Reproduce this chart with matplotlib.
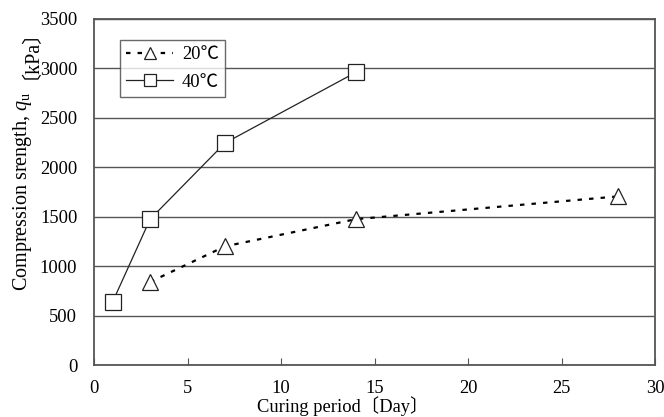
"""
Compression strength vs curing period, 20C and 40C
"""

import matplotlib
matplotlib.use("Agg")
import matplotlib.pyplot as plt

# data
days_20 = [3, 7, 14, 28]
qu_20 = [840, 1200, 1475, 1705]
days_40 = [1, 3, 7, 14]
qu_40 = [640, 1475, 2245, 2960]

x_ticks = [0, 5, 10, 15, 20, 25, 30]
y_ticks = [0, 500, 1000, 1500, 2000, 2500, 3000, 3500]

SERIF = ['Liberation Serif', 'Noto Sans CJK JP', 'DejaVu Serif']
plt.rcParams['font.family'] = SERIF
plt.rcParams['mathtext.fontset'] = 'custom'
plt.rcParams['mathtext.rm'] = 'Liberation Serif'
plt.rcParams['mathtext.it'] = 'Liberation Serif:italic'
plt.rcParams['font.size'] = 13.3

W, H = 664, 417
fig = plt.figure(figsize=(W / 100, H / 100), dpi=100)
ax = fig.add_axes([94 / W, 1 - 365 / H, (655 - 94) / W, (365 - 19) / H])

ax.plot(days_20, qu_20, linestyle=(0, (2, 3.2)), linewidth=1.6, color='#000000',
        marker='^', markersize=12, markerfacecolor='white', markeredgecolor='#222222',
        markeredgewidth=0.9, label='20℃')
ax.plot(days_40, qu_40, linestyle='-', linewidth=0.9, color='#222222',
        marker='s', markersize=11.5, markerfacecolor='white', markeredgecolor='#222222',
        markeredgewidth=0.9, label='40℃')

ax.set_xlim(0, 30)
ax.set_ylim(0, 3500)
ax.set_xticks(x_ticks)
ax.set_yticks(y_ticks)
ax.yaxis.grid(True, color='#555555', linewidth=1.0)
ax.set_axisbelow(True)
for s in ax.spines.values():
    s.set_color('#555555')
    s.set_linewidth(1.3)
ax.tick_params(axis='x', direction='in', length=5, color='#555555', pad=11)
ax.tick_params(axis='y', direction='out', length=0, pad=12)

leg = ax.legend(loc='upper left', bbox_to_anchor=(26 / 561, 1 - 21 / 346),
                frameon=True, fancybox=False, edgecolor='#444444', markerscale=0.75,
                handlelength=2.5, borderpad=0.35, labelspacing=0.55, handletextpad=0.5,
                borderaxespad=0)
leg.get_frame().set_linewidth(1.0)

fig.text(343 / W, 1 - 406 / H, 'Curing period〔Day〕', ha='center', va='center')

# y label: math part, then the bracket text placed a little above it
lab = fig.text(23 / W, 1 - 291 / H, 'Compression srength, $q_{\\mathrm{u}}$',
               rotation=90, ha='center', va='bottom', fontsize=14.5)
fig.canvas.draw()
bb = lab.get_window_extent()
fig.text(21 / W, (bb.y1 + 13) / H, '〔kPa〕', rotation=90, ha='center', va='bottom',
         fontsize=14.5)

fig.savefig('out.png', dpi=100)
